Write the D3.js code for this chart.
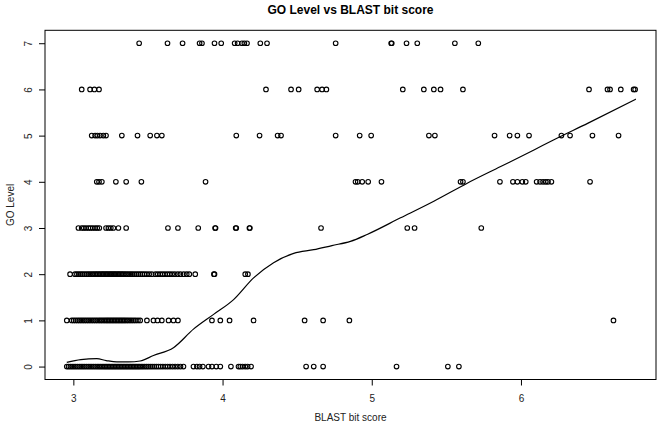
<!DOCTYPE html>
<html>
<head>
<meta charset="utf-8">
<script src="https://cdn.jsdelivr.net/npm/d3@7"></script>
<style>
  html, body { margin: 0; padding: 0; background: #fff; }
  svg { display: block; font-family: "Liberation Sans", Arial, sans-serif; }
</style>
</head>
<body>
<svg id="chart" width="661" height="428"></svg>
<script>
// ---- Data (BLAST bit score values per GO level) ----
const level0 = [2.956, 2.968, 2.980, 2.992, 3.004, 3.016, 3.028, 3.040, 3.052, 3.064, 3.076, 3.088, 3.100, 3.112, 3.124, 3.136, 3.148, 3.160, 3.171, 3.182, 3.193, 3.204, 3.214, 3.224, 3.234, 3.244, 3.254, 3.264, 3.274, 3.284, 3.294, 3.304, 3.314, 3.324, 3.334, 3.344, 3.354, 3.364, 3.374, 3.384, 3.394, 3.404, 3.414, 3.424, 3.434, 3.444, 3.455, 3.466, 3.478, 3.490, 3.502, 3.515, 3.528, 3.542, 3.556, 3.570, 3.585, 3.600, 3.616, 3.632, 3.648, 3.665, 3.682, 3.700, 3.718, 3.738, 3.805, 3.828, 3.846, 3.868, 3.906, 3.929, 3.958, 3.985, 4.056, 4.107, 4.119, 4.134, 4.152, 4.168, 4.191, 4.560, 4.611, 4.674, 5.166, 5.510, 5.584];
const level1 = [2.956, 2.989, 3.002, 3.015, 3.028, 3.040, 3.052, 3.064, 3.076, 3.088, 3.100, 3.112, 3.124, 3.136, 3.148, 3.160, 3.172, 3.183, 3.194, 3.205, 3.216, 3.226, 3.236, 3.246, 3.256, 3.266, 3.276, 3.286, 3.296, 3.306, 3.316, 3.326, 3.336, 3.346, 3.357, 3.368, 3.380, 3.392, 3.405, 3.418, 3.433, 3.448, 3.493, 3.537, 3.564, 3.593, 3.638, 3.671, 3.701, 3.929, 3.985, 4.047, 4.208, 4.550, 4.674, 4.850, 6.620];
const level2 = [2.978, 3.011, 3.024, 3.037, 3.050, 3.062, 3.075, 3.088, 3.100, 3.112, 3.124, 3.135, 3.146, 3.156, 3.166, 3.176, 3.186, 3.195, 3.204, 3.213, 3.222, 3.231, 3.240, 3.249, 3.258, 3.266, 3.275, 3.284, 3.293, 3.302, 3.311, 3.320, 3.330, 3.340, 3.351, 3.362, 3.374, 3.386, 3.398, 3.411, 3.424, 3.437, 3.450, 3.463, 3.477, 3.492, 3.508, 3.526, 3.550, 3.566, 3.582, 3.598, 3.614, 3.630, 3.646, 3.662, 3.680, 3.700, 3.718, 3.740, 3.760, 3.777, 3.817, 3.942, 3.946, 4.152, 4.170];
const level3 = [3.034, 3.056, 3.070, 3.085, 3.101, 3.115, 3.130, 3.146, 3.160, 3.174, 3.219, 3.235, 3.251, 3.268, 3.302, 3.354, 3.634, 3.701, 3.837, 3.950, 3.953, 4.088, 4.092, 4.180, 4.183, 4.660, 5.238, 5.287, 5.734];
const level4 = [3.157, 3.172, 3.191, 3.285, 3.354, 3.456, 3.886, 4.891, 4.906, 4.936, 4.976, 5.065, 5.595, 5.611, 5.859, 5.946, 5.976, 6.009, 6.032, 6.105, 6.128, 6.148, 6.166, 6.181, 6.204, 6.463];
const level5 = [3.123, 3.146, 3.161, 3.179, 3.201, 3.219, 3.325, 3.430, 3.515, 3.560, 3.593, 4.092, 4.248, 4.369, 4.392, 4.758, 4.919, 4.996, 5.383, 5.423, 5.823, 5.924, 5.976, 6.054, 6.271, 6.329, 6.479, 6.654];
const level6 = [3.056, 3.112, 3.141, 3.172, 4.291, 4.459, 4.510, 4.634, 4.667, 4.696, 5.208, 5.349, 5.416, 5.461, 5.611, 6.456, 6.580, 6.597, 6.669, 6.755, 6.765];
const level7 = [3.441, 3.631, 3.732, 3.846, 3.862, 3.946, 3.991, 4.081, 4.101, 4.130, 4.146, 4.164, 4.253, 4.298, 4.758, 5.130, 5.134, 5.233, 5.305, 5.557, 5.714];

// Smoothed (lowess) curve
const lowessX = [2.956, 3.05, 3.157, 3.22, 3.291, 3.37, 3.448, 3.537, 3.671, 3.805, 3.940, 4.074, 4.208, 4.342, 4.477, 4.611, 4.733, 4.857, 4.969, 5.193, 5.416, 5.640, 5.864, 6.087, 6.221, 6.450, 6.770];
const lowessY = [0.09, 0.15, 0.17, 0.13, 0.10, 0.10, 0.12, 0.24, 0.41, 0.81, 1.13, 1.45, 1.92, 2.25, 2.45, 2.53, 2.62, 2.71, 2.86, 3.22, 3.58, 3.97, 4.33, 4.69, 4.91, 5.27, 5.79];

const xTicks = [3, 4, 5, 6];
const yTicks = [0, 1, 2, 3, 4, 5, 6, 7];

const titleText = "GO Level vs BLAST bit score";
const xLabel = "BLAST bit score";
const yLabel = "GO Level";

// ---- Build points ----
const levels = [level0, level1, level2, level3, level4, level5, level6, level7];
const points = [];
levels.forEach((arr, lvl) => arr.forEach(v => points.push({ x: v, y: lvl })));
const curve = lowessX.map((v, i) => ({ x: v, y: lowessY[i] }));

// ---- Layout ----
const svg = d3.select("#chart");
const mLeft = 45, mRight = 656, mTop = 30.3, mBottom = 379.5;

const x = d3.scaleLinear().domain([2.81, 6.905]).range([mLeft, mRight]);
const y = d3.scaleLinear().domain([-0.28, 7.28]).range([mBottom, mTop]);

// Points
svg.append("g")
  .selectAll("circle")
  .data(points)
  .join("circle")
  .attr("cx", d => x(d.x))
  .attr("cy", d => y(d.y))
  .attr("r", 2.3)
  .attr("fill", "none")
  .attr("stroke", "#000")
  .attr("stroke-width", 1.1);

// Curve
svg.append("path")
  .datum(curve)
  .attr("fill", "none")
  .attr("stroke", "#000")
  .attr("stroke-width", 1.2)
  .attr("d", d3.line().x(d => x(d.x)).y(d => y(d.y)).curve(d3.curveMonotoneX));

// Box
svg.append("rect")
  .attr("x", mLeft).attr("y", mTop)
  .attr("width", mRight - mLeft).attr("height", mBottom - mTop)
  .attr("fill", "none").attr("stroke", "#000").attr("stroke-width", 1);

// X axis
const gx = svg.append("g")
  .attr("transform", `translate(0,${mBottom})`)
  .call(d3.axisBottom(x).tickValues(xTicks).tickSize(6).tickPadding(9).tickFormat(d3.format("d")));
gx.select(".domain").remove();
gx.selectAll("text").attr("font-size", 10).attr("fill", "#222").attr("font-family", "Liberation Sans, Arial, sans-serif");
gx.selectAll("line").attr("stroke", "#000");

// Y axis
const gy = svg.append("g")
  .attr("transform", `translate(${mLeft},0)`)
  .call(d3.axisLeft(y).tickValues(yTicks).tickSize(6).tickFormat(d3.format("d")));
gy.select(".domain").remove();
gy.selectAll("line").attr("stroke", "#000");
gy.selectAll("text")
  .attr("font-size", 10).attr("fill", "#222").attr("font-family", "Liberation Sans, Arial, sans-serif")
  .attr("x", null).attr("dy", null)
  .attr("text-anchor", "middle")
  .attr("transform", "translate(-16,0) rotate(-90)")
  .attr("dominant-baseline", "middle");

// Title
svg.append("text")
  .attr("x", (mLeft + mRight) / 2).attr("y", 14)
  .attr("text-anchor", "middle")
  .attr("font-size", 12).attr("font-weight", "bold")
  .text(titleText);

// Axis labels
svg.append("text")
  .attr("x", (mLeft + mRight) / 2).attr("y", 421)
  .attr("text-anchor", "middle")
  .attr("font-size", 10).attr("fill", "#222")
  .text(xLabel);

svg.append("text")
  .attr("transform", `translate(14,${(mTop + mBottom) / 2}) rotate(-90)`)
  .attr("text-anchor", "middle")
  .attr("font-size", 10).attr("fill", "#222")
  .text(yLabel);
</script>
</body>
</html>
